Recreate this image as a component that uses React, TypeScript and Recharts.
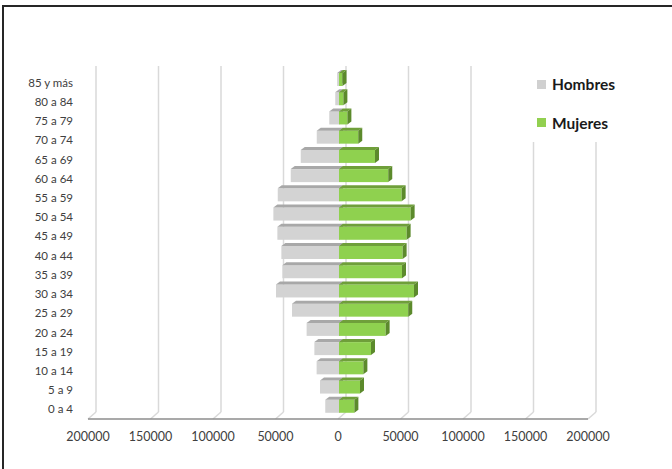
import React from 'react';
import { BarChart, Bar, XAxis, YAxis, CartesianGrid, Legend } from 'recharts';

const categories = [
  '0 a 4', '5 a 9', '10 a 14', '15 a 19', '20 a 24', '25 a 29', '30 a 34', '35 a 39', '40 a 44',
  '45 a 49', '50 a 54', '55 a 59', '60 a 64', '65 a 69', '70 a 74', '75 a 79', '80 a 84', '85 y más',
];
const hombres = [11000, 15200, 17900, 19700, 25900, 37600, 50400, 45300, 46100, 49300, 52500, 49000, 38600, 30600, 17800, 7800, 3000, 1500];
const mujeres = [12300, 16800, 19500, 25600, 37300, 55400, 60000, 50400, 50900, 54100, 57300, 50100, 39400, 28800, 15400, 6700, 3500, 2800];
const xTicks = [-200000, -150000, -100000, -50000, 0, 50000, 100000, 150000, 200000];

const data = categories.map((c, i) => ({ grupo: c, Hombres: -hombres[i], Mujeres: mujeres[i] }));

const DX = 4;
const DY = 3;
const OX = 1;
const OY = -3;

function make3D(front: string, top: string, side: string) {
  return (props: any) => {
    const { x, y, width, height } = props;
    if (x == null || y == null) return <g />;
    const left = Math.min(x, x + width) + OX;
    const w = Math.abs(width);
    const t = y + OY;
    const h = height;
    const r = left + w;
    return (
      <g>
        <rect x={left} y={t} width={w} height={h} fill={front} />
        <polygon points={`${left},${t} ${left + DX},${t - DY} ${r + DX},${t - DY} ${r},${t}`} fill={top} />
        <polygon points={`${r},${t} ${r + DX},${t - DY} ${r + DX},${t + h - DY} ${r},${t + h}`} fill={side} />
      </g>
    );
  };
}

const GDX = 8;
const GDY = 7;
const gridLine = (props: any) => {
  const { x1, y1, y2 } = props;
  return (
    <g key={props.key ?? `g-${x1}`}>
      <line x1={x1 + GDX} y1={y1 - GDY} x2={x1 + GDX} y2={y2 - GDY} stroke="#d9d9d9" strokeWidth={1.5} />
      <line x1={x1} y1={y2} x2={x1 + GDX} y2={y2 - GDY} stroke="#d9d9d9" strokeWidth={1.5} />
    </g>
  );
};

const legendContent = (props: any) => {
  const payload = props.payload || [];
  return (
    <div style={{ position: 'relative', width: 142, height: 80, background: '#fff' }}>
      {payload.map((p: any, i: number) => (
        <div
          key={p.value}
          style={{
            position: 'absolute',
            left: 7,
            top: 22 + i * 38.7 - 10,
            height: 20,
            display: 'flex',
            alignItems: 'center',
            fontFamily: 'Lato',
            fontWeight: 700,
            fontSize: 15.5,
            color: '#1a1a1a',
            whiteSpace: 'nowrap',
          }}
        >
          <span style={{ display: 'inline-block', width: 9, height: 9, background: p.color, marginRight: 6 }} />
          {p.value}
        </div>
      ))}
    </div>
  );
};

export default function App() {
  return (
    <div style={{ position: 'absolute', left: 0, top: 0, width: 672, height: 469, overflow: 'hidden', background: '#fff' }}>
      <div
        style={{
          position: 'absolute',
          left: 2,
          top: 5,
          width: 700,
          height: 500,
          borderTop: '2px solid #262626',
          borderLeft: '2px solid #262626',
        }}
      />
      <div style={{ position: 'absolute', left: 0, top: 0 }}>
        <BarChart
          width={672}
          height={469}
          data={data}
          layout="vertical"
          stackOffset="sign"
          margin={{ top: 73, right: 84, bottom: 0, left: 0 }}
        >
          <CartesianGrid horizontal={false} vertical={gridLine} />
          <XAxis
            type="number"
            domain={[-200000, 200000]}
            ticks={xTicks}
            tickFormatter={(v: number) => String(Math.abs(v))}
            height={50}
            tickSize={0}
            tickMargin={13}
            axisLine={{ stroke: '#8c8c8c', strokeWidth: 1.5 }}
            tickLine={false}
            tick={{ fontSize: 12.5, fill: '#404040', fontFamily: 'Lato' }}
          />
          <YAxis
            type="category"
            dataKey="grupo"
            reversed
            width={88}
            tickSize={0}
            tickMargin={15}
            axisLine={false}
            tickLine={false}
            interval={0}
            tick={{ fontSize: 11.5, fill: '#404040', fontFamily: 'Lato' }}
          />
          <Legend
            layout="vertical"
            align="center"
            verticalAlign="middle"
            content={legendContent}
            wrapperStyle={{ position: 'absolute', left: 530, top: 62, width: 142, height: 80 }}
          />
          <Bar
            dataKey="Hombres"
            stackId="a"
            barSize={13}
            fill="#d0d0d0"
            isAnimationActive={false}
            shape={make3D('#d3d3d3', '#a8a8a8', '#9a9a9a')}
          />
          <Bar
            dataKey="Mujeres"
            stackId="a"
            barSize={13}
            fill="#92d050"
            isAnimationActive={false}
            shape={make3D('#8fd14f', '#6f9f3a', '#5c8a2c')}
          />
        </BarChart>
      </div>
    </div>
  );
}
